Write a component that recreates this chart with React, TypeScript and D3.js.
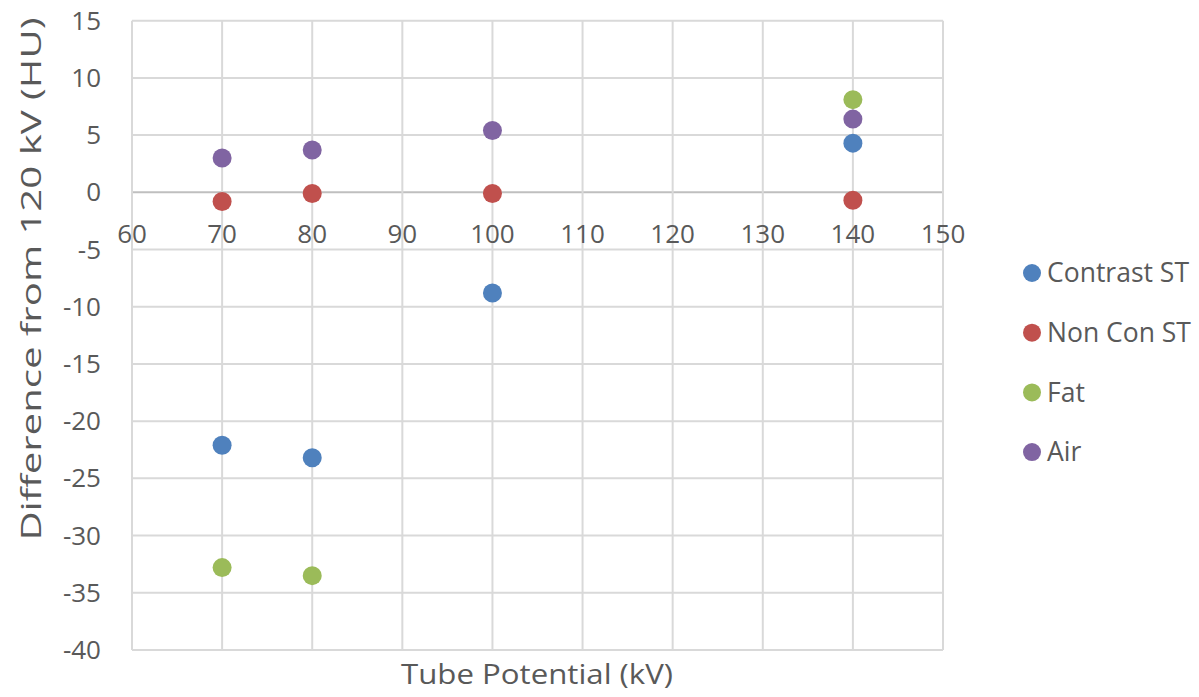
import React from "react";
import * as d3 from "d3";

const xValues = [70, 80, 100, 140];
const seriesNames = ["Contrast ST", "Non Con ST", "Fat", "Air"];
const contrastST = [-22.1, -23.2, -8.8, 4.3];
const nonConST = [-0.8, -0.1, -0.1, -0.7];
const fat: (number | null)[] = [-32.8, -33.5, null, 8.1];
const air = [3.0, 3.7, 5.4, 6.4];
const seriesColors = ["#4F81BD", "#C0504D", "#9BBB59", "#8064A2"];
const xTicks = [60, 70, 80, 90, 100, 110, 120, 130, 140, 150];
const yTicks = [15, 10, 5, 0, -5, -10, -15, -20, -25, -30, -35, -40];
const xTitle = "Tube Potential (kV)";
const yTitle = "Difference from 120 kV (HU)";

const W = 1199;
const H = 697;
const FONT = "'Open Sans', 'Noto Sans', sans-serif";
const TEXT = "#595959";

export default function App() {
  const x = d3.scaleLinear().domain([60, 150]).range([132, 943]);
  const y = d3.scaleLinear().domain([-40, 15]).range([650, 20.7]);
  const allSeries = [contrastST, nonConST, fat, air];

  return (
    <svg
      width={W}
      height={H}
      style={{ position: "absolute", left: 0, top: 0, background: "#fff" }}
      fontFamily={FONT}
    >
      <rect width={W} height={H} fill="#fff" />
      {yTicks.map((t) => (
        <line
          key={"gy" + t}
          x1={x(60)}
          x2={x(150)}
          y1={y(t)}
          y2={y(t)}
          stroke={t === 0 ? "#bfbfbf" : "#d9d9d9"}
          strokeWidth={2}
        />
      ))}
      {xTicks.map((t) => (
        <line
          key={"gx" + t}
          x1={x(t)}
          x2={x(t)}
          y1={y(15)}
          y2={y(-40)}
          stroke="#d9d9d9"
          strokeWidth={2}
        />
      ))}
      {yTicks.map((t) => (
        <text
          key={"ly" + t}
          x={101}
          y={y(t)}
          dy="0.35em"
          textAnchor="end"
          fontSize={26}
          fill={TEXT}
        >
          {t}
        </text>
      ))}
      {xTicks.map((t) => (
        <text
          key={"lx" + t}
          x={x(t)}
          y={y(0) + 42}
          dy="0.35em"
          textAnchor="middle"
          fontSize={26}
          fill={TEXT}
        >
          {t}
        </text>
      ))}
      {allSeries.map((vals, si) =>
        vals.map((v, i) =>
          v === null ? null : (
            <circle
              key={"p" + si + "-" + i}
              cx={x(xValues[i])}
              cy={y(v)}
              r={9.5}
              fill={seriesColors[si]}
            />
          )
        )
      )}
      <text
        x={537}
        y={684}
        textAnchor="middle"
        fontSize={27}
        fill={TEXT}
        textLength={272}
        lengthAdjust="spacingAndGlyphs"
      >
        {xTitle}
      </text>
      <text
        transform={`translate(41,279) rotate(-90)`}
        textAnchor="middle"
        fontSize={27}
        fill={TEXT}
        textLength={523}
        lengthAdjust="spacingAndGlyphs"
      >
        {yTitle}
      </text>
      {seriesNames.map((n, i) => (
        <g key={"lg" + n} transform={`translate(1032,${273 + i * 59.7})`}>
          <circle cx={0} cy={0} r={9} fill={seriesColors[i]} />
          <text x={15} y={0} dy="0.35em" fontSize={26.5} fill={TEXT}>
            {n}
          </text>
        </g>
      ))}
    </svg>
  );
}
